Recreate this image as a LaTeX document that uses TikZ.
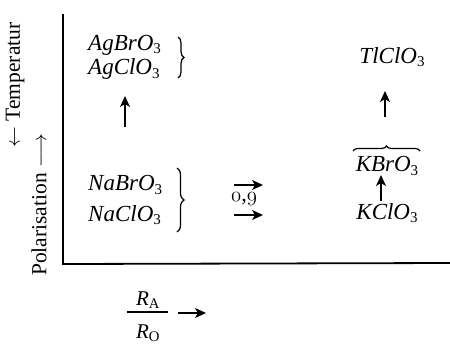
\documentclass[tikz,border=0pt]{standalone}
\usepackage{fontspec}
\setmainfont{Liberation Serif}
\usetikzlibrary{arrows.meta,decorations.pathreplacing}
\newcommand{\osf}[1]{{\usefont{OML}{cmm}{m}{it}#1}}
\newcommand{\sub}[1]{\textup{\fontsize{15}{15}\selectfont\raisebox{-3.5pt}{#1}}}
\begin{document}
\begin{tikzpicture}[x=1pt,y=-1pt,
  lab/.style={inner sep=0pt,font=\fontsize{23}{26}\selectfont\itshape},
  axlab/.style={inner sep=0pt,rotate=90,font=\fontsize{21.5}{26}\selectfont},
  arr/.style={line width=1.4pt,-{Stealth[length=11pt,width=10pt,inset=3pt]}},
  brc/.style={line width=1.2pt,decorate,decoration={brace,amplitude=6pt}},
  axis/.style={line width=1.8pt}]
\useasboundingbox (0,0) rectangle (450,346);
% axes
\coordinate (top) at (63,14);
\coordinate (org) at (63,264);
\coordinate (rgt) at (450,263);
\draw[axis] (top) -- (org) -- (rgt);
% axis labels
\node[axlab] (temp) at (15,85) {$\leftarrow$ Temperatur};
\node[axlab] (pol) at (39,205) {Polarisation $\longrightarrow$};
% left column
\node[lab,anchor=west] (agbr) at (88,45) {AgBrO\sub{3}};
\node[lab,anchor=west] (agcl) at (88,69) {AgClO\sub{3}};
\coordinate (b1t) at (178,37);
\coordinate (b1b) at (178,78);
\draw[brc] (b1t) -- (b1b);
\coordinate (a1s) at (125,127);
\coordinate (a1e) at (125,96);
\draw[arr] (a1s) -- (a1e);
\node[lab,anchor=west] (nabr) at (88,185) {NaBrO\sub{3}};
\node[lab,anchor=west] (nacl) at (88,215) {NaClO\sub{3}};
\coordinate (b2t) at (177,168);
\coordinate (b2b) at (177,232);
\draw[brc,decoration={brace,amplitude=7pt}] (b2t) -- (b2b);
% middle
\coordinate (h1s) at (234,185);
\coordinate (h1e) at (263,185);
\draw[arr] (h1s) -- (h1e);
\coordinate (h2s) at (234,215);
\coordinate (h2e) at (263,215);
\draw[arr] (h2s) -- (h2e);
\node[inner sep=0pt,font=\fontsize{22}{24}\selectfont] (val) at (244,199) {\osf{0},\osf{9}};
% right column
\node[lab] (tl) at (392,57) {TlClO\sub{3}};
\coordinate (a2s) at (385,117);
\coordinate (a2e) at (385,91);
\draw[arr] (a2s) -- (a2e);
\node[lab] (kbr) at (387,166) {KBrO\sub{3}};
\coordinate (b3l) at (353,151);
\coordinate (b3r) at (420,151);
\draw[brc,decoration={brace,amplitude=5pt}] (b3l) -- (b3r);
\coordinate (a3s) at (381,201);
\coordinate (a3e) at (381,175);
\draw[arr] (a3s) -- (a3e);
\node[lab] (kcl) at (387,213) {KClO\sub{3}};
% ratio
\node[inner sep=0pt,font=\fontsize{21}{24}\selectfont] (num) at (148,300) {$\textit{R}_{\mathrm{A}}$};
\coordinate (barl) at (127,312);
\coordinate (barr) at (168,312);
\draw[line width=1.6pt] (barl) -- (barr);
\node[inner sep=0pt,font=\fontsize{21}{24}\selectfont] (den) at (148,333) {$\textit{R}_{\mathrm{O}}$};
\coordinate (h3s) at (178,313);
\coordinate (h3e) at (206,313);
\draw[arr] (h3s) -- (h3e);
\end{tikzpicture}
\end{document}
